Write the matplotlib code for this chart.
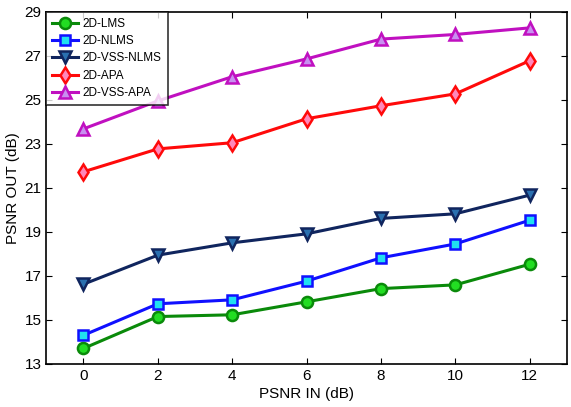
import numpy as np
import matplotlib.pyplot as plt

plt.rcParams['font.family'] = ['Liberation Sans', 'DejaVu Sans']

# PSNR input levels (dB)
psnr_in = [0, 2, 4, 6, 8, 10, 12]

# PSNR output per algorithm (dB)
lms = [13.70, 15.15, 15.23, 15.82, 16.42, 16.59, 17.53]
nlms = [14.30, 15.73, 15.91, 16.76, 17.82, 18.45, 19.53]
vss_nlms = [16.62, 17.94, 18.50, 18.91, 19.61, 19.82, 20.67]
apa = [21.73, 22.77, 23.05, 24.14, 24.73, 25.27, 26.78]
vss_apa = [23.68, 24.95, 26.05, 26.86, 27.76, 27.97, 28.27]

series = [
    ('2D-LMS', lms, 'o', '#0a8a0a', '#22dd22', 8),
    ('2D-NLMS', nlms, 's', '#1010ff', '#20e0f0', 7),
    ('2D-VSS-NLMS', vss_nlms, 'v', '#10255e', '#2a70b0', 9),
    ('2D-APA', apa, 'd', '#ff0a0a', '#ff88bb', 8),
    ('2D-VSS-APA', vss_apa, '^', '#c010c0', '#c890f0', 9),
]

fig, ax = plt.subplots(figsize=(5.71, 4.07), dpi=100)
fig.subplots_adjust(left=0.081, right=0.993, top=0.971, bottom=0.106)

for name, vals, mk, lc, fc, ms in series:
    ax.plot(psnr_in, vals, marker=mk, color=lc, markerfacecolor=fc,
            markeredgecolor=lc, markeredgewidth=1.8, markersize=ms,
            linewidth=2.2, label=name)

ax.set_xlim(-1, 13)
ax.set_ylim(13, 29)
ax.set_xticks(np.arange(0, 13, 2))
ax.set_yticks(np.arange(13, 30, 2))
ax.tick_params(direction='in', top=True, right=True, labelsize=11, length=4)
for sp in ax.spines.values():
    sp.set_linewidth(1.2)

ax.set_xlabel('PSNR IN (dB)', fontsize=11, labelpad=3)
ax.set_ylabel('PSNR OUT (dB)', fontsize=11, labelpad=3)

leg = ax.legend(loc='upper left', fontsize=8.5, frameon=True, fancybox=False,
                borderaxespad=0, handlelength=2.2, labelspacing=0.45,
                borderpad=0.5, handletextpad=0.4)
leg.get_frame().set_edgecolor('black')
leg.get_frame().set_linewidth(1.2)

plt.savefig('out.png', dpi=100)
